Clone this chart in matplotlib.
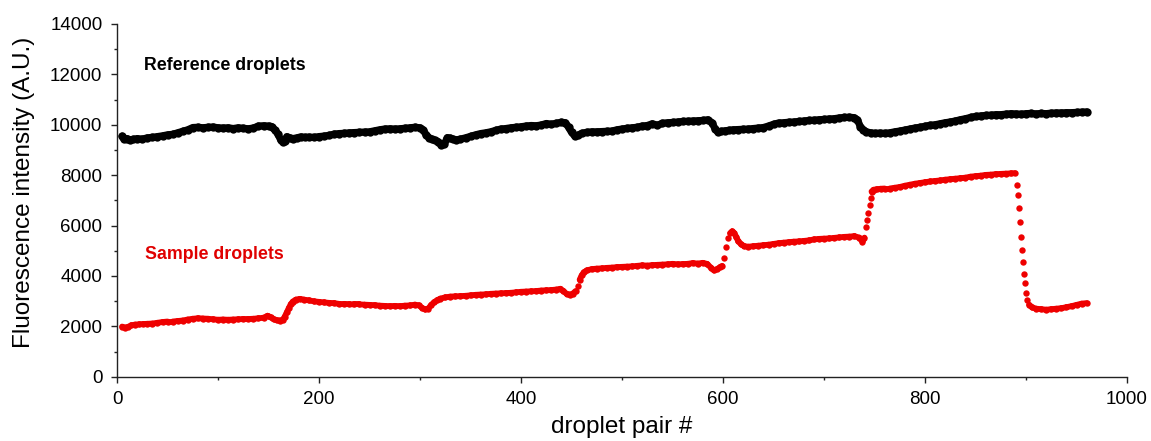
import matplotlib
matplotlib.use("Agg")
import matplotlib.pyplot as plt
import numpy as np
from matplotlib.collections import LineCollection
from matplotlib.ticker import MultipleLocator

plt.rcParams['font.family'] = ['Liberation Sans', 'DejaVu Sans']

# Reference droplets: droplet pair index and intensity
ref_pair = [
    5, 7, 10, 13, 16, 20, 25, 30, 35, 40, 45, 50, 55, 60, 65, 70, 75, 80, 85, 90,
    95, 100, 105, 110, 115, 120, 125, 130, 135, 140, 145, 150, 153, 156, 159, 162,
    164, 166, 168, 171, 174, 178, 182, 186, 190, 195, 200, 205, 210, 215, 220, 225,
    230, 235, 240, 245, 250, 255, 260, 265, 270, 275, 280, 285, 290, 295, 300, 303,
    306, 309, 312, 315, 318, 321, 324, 327, 330, 333, 336, 340, 345, 350, 355, 360,
    365, 370, 375, 380, 385, 390, 395, 400, 405, 410, 415, 420, 425, 430, 435, 440,
    444, 447, 450, 453, 456, 460, 465, 470, 475, 480, 485, 490, 495, 500, 505, 510,
    515, 520, 525, 530, 535, 540, 545, 550, 555, 560, 565, 570, 575, 580, 585, 589,
    592, 595, 598, 602, 606, 610, 615, 620, 625, 630, 635, 640, 645, 650, 655, 660,
    665, 670, 675, 680, 685, 690, 695, 700, 705, 710, 715, 720, 725, 730, 733, 736,
    739, 742, 746, 750, 755, 760, 765, 770, 775, 780, 785, 790, 795, 800, 805, 810,
    815, 820, 825, 830, 835, 840, 845, 850, 855, 860, 865, 870, 875, 880, 885, 890,
    895, 900, 905, 910, 915, 920, 925, 930, 935, 940, 945, 950, 955, 960,
]
ref_intensity = [
    9550, 9420, 9450, 9400, 9420, 9450, 9430, 9480, 9500, 9530, 9560, 9600, 9620, 9680, 9740, 9800, 9890, 9900, 9880, 9900,
    9910, 9880, 9870, 9880, 9850, 9880, 9860, 9840, 9870, 9950, 9960, 9950, 9930, 9800, 9650, 9400,
    9320, 9360, 9530, 9480, 9450, 9480, 9520, 9500, 9510, 9500, 9530, 9550, 9580, 9630, 9650, 9660,
    9680, 9690, 9700, 9710, 9720, 9760, 9800, 9830, 9840, 9830, 9840, 9860, 9880, 9900, 9880, 9800,
    9600, 9480, 9420, 9380, 9330, 9200, 9230, 9490, 9470, 9420, 9400, 9430, 9480, 9540, 9600, 9650,
    9680, 9720, 9780, 9830, 9850, 9880, 9900, 9920, 9950, 9970, 9960, 9990, 10050, 10020, 10060, 10100,
    10080, 9900, 9700, 9560, 9580, 9660, 9700, 9720, 9720, 9730, 9740, 9750, 9800, 9830, 9860, 9880,
    9900, 9950, 9970, 10040, 9980, 10060, 10080, 10090, 10110, 10130, 10140, 10150, 10160, 10170, 10200, 10080,
    9850, 9700, 9740, 9760, 9780, 9800, 9810, 9820, 9830, 9850, 9870, 9890, 9950, 10020, 10070, 10080,
    10100, 10110, 10130, 10150, 10170, 10180, 10200, 10210, 10230, 10240, 10270, 10290, 10300, 10280, 10200, 9920,
    9800, 9720, 9680, 9660, 9670, 9660, 9680, 9720, 9750, 9790, 9830, 9870, 9900, 9940, 9980, 10000,
    10040, 10080, 10110, 10150, 10200, 10240, 10290, 10330, 10350, 10370, 10380, 10400, 10400, 10420, 10440, 10430,
    10420, 10440, 10450, 10430, 10450, 10440, 10460, 10470, 10470, 10480, 10480, 10490, 10500, 10510,
]

# Sample droplets: droplet pair index and intensity
sample_pair = [
    5, 8, 11, 14, 18, 22, 26, 30, 35, 40, 45, 50, 55, 60, 65, 70, 75, 80, 85, 90,
    95, 100, 105, 110, 115, 120, 125, 130, 135, 140, 145, 149, 152, 155, 158, 161,
    164, 166, 168, 170, 172, 174, 177, 181, 185, 190, 195, 200, 205, 210, 215, 220,
    225, 230, 235, 240, 245, 250, 255, 260, 265, 270, 275, 280, 285, 290, 295, 299,
    302, 305, 308, 311, 314, 317, 320, 325, 330, 335, 340, 345, 350, 355, 360, 365,
    370, 375, 380, 385, 390, 395, 400, 405, 410, 415, 420, 425, 430, 435, 439, 442,
    445, 448, 451, 454, 456, 458, 460, 462, 465, 470, 475, 480, 485, 490, 495, 500,
    505, 510, 515, 520, 525, 530, 535, 540, 545, 550, 555, 560, 565, 570, 575, 580,
    584, 588, 591, 594, 597, 599, 601, 603, 605, 607, 609, 611, 613, 615, 618, 621,
    625, 630, 635, 640, 645, 650, 655, 660, 665, 670, 675, 680, 685, 690, 695, 700,
    705, 710, 715, 720, 725, 730, 735, 738, 740, 742, 743, 744, 745, 746, 747, 749,
    752, 756, 760, 765, 770, 775, 780, 785, 790, 795, 800, 805, 810, 815, 820, 825,
    830, 835, 840, 845, 850, 855, 860, 865, 870, 875, 880, 885, 889, 891, 892, 893,
    894, 895, 896, 897, 898, 899, 900, 901, 903, 906, 910, 915, 920, 925, 930, 935,
    940, 945, 950, 955, 960,
]
sample_intensity = [
    1990, 1950, 1980, 2040, 2070, 2080, 2090, 2100, 2110, 2140, 2170, 2190, 2190, 2210, 2230, 2270, 2300, 2320, 2310, 2300,
    2280, 2260, 2270, 2260, 2270, 2280, 2290, 2290, 2300, 2320, 2340, 2420, 2360, 2280, 2240, 2230,
    2260, 2380, 2550, 2720, 2880, 2980, 3060, 3090, 3060, 3030, 2990, 2970, 2950, 2930, 2920, 2890,
    2890, 2880, 2870, 2870, 2860, 2850, 2840, 2820, 2810, 2800, 2810, 2800, 2820, 2830, 2860, 2830,
    2730, 2670, 2700, 2850, 2960, 3040, 3100, 3150, 3180, 3190, 3200, 3210, 3230, 3250, 3260, 3270,
    3290, 3300, 3310, 3320, 3330, 3350, 3370, 3380, 3390, 3400, 3420, 3430, 3440, 3460, 3490, 3400,
    3290, 3260, 3290, 3400, 3600, 3850, 4020, 4140, 4220, 4270, 4290, 4300, 4320, 4330, 4350, 4360,
    4370, 4380, 4400, 4420, 4410, 4430, 4440, 4450, 4460, 4480, 4460, 4470, 4480, 4510, 4490, 4520,
    4480, 4330, 4220, 4270, 4350, 4400, 4700, 5150, 5500, 5700, 5770, 5700, 5550, 5380, 5250, 5180,
    5160, 5180, 5200, 5220, 5240, 5270, 5300, 5320, 5340, 5360, 5370, 5390, 5410, 5450, 5470, 5480,
    5490, 5510, 5530, 5550, 5560, 5580, 5520, 5360, 5520, 5960, 6220, 6490, 6820, 7090, 7350, 7420,
    7440, 7460, 7470, 7470, 7500, 7530, 7580, 7620, 7660, 7690, 7720, 7750, 7770, 7790, 7820, 7840,
    7860, 7880, 7900, 7940, 7960, 7980, 8010, 8020, 8040, 8050, 8060, 8070, 8080, 7620, 7220, 6690,
    6160, 5560, 5030, 4570, 4070, 3710, 3310, 3050, 2860, 2750, 2700, 2680, 2660, 2680, 2700, 2720,
    2760, 2800, 2850, 2900, 2920,
]

BLACK = '#000000'
RED = '#ee0000'

fig = plt.figure(figsize=(11.51, 4.41), dpi=100)
ax = fig.add_axes([0.1017, 0.1458, 0.8775, 0.7998])

# Reference series: dense enough that the points merge into a band
ax.plot(ref_pair, ref_intensity, '-', color=BLACK, lw=5.2,
        solid_capstyle='round', solid_joinstyle='round')
ax.plot(ref_pair, ref_intensity, linestyle='none', marker='o', markersize=6.0,
        markerfacecolor=BLACK, markeredgecolor='none')

# Sample series: join neighbouring points only where the signal is gradual,
# so the fast transitions stay as separate dots
sx = np.asarray(sample_pair, dtype=float)
sy = np.asarray(sample_intensity, dtype=float)
pts = np.column_stack([sx, sy])
segs = np.stack([pts[:-1], pts[1:]], axis=1)
gradual = np.abs(np.diff(sy)) < 180
ax.add_collection(LineCollection(segs[gradual], colors=RED, linewidths=4.2,
                                 capstyle='round', joinstyle='round'))
ax.plot(sample_pair, sample_intensity, linestyle='none', marker='o', markersize=4.6,
        markerfacecolor=RED, markeredgecolor='none')

ax.text(27, 12350, 'Reference droplets', fontsize=12.8, fontweight='bold',
        color='black', va='center', ha='left')
ax.text(28, 4840, 'Sample droplets', fontsize=12.8, fontweight='bold',
        color='#e00000', va='center', ha='left')

ax.set_xlim(0, 1000)
ax.set_ylim(0, 14000)
ax.xaxis.set_major_locator(MultipleLocator(200))
ax.xaxis.set_minor_locator(MultipleLocator(100))
ax.yaxis.set_major_locator(MultipleLocator(2000))
ax.yaxis.set_minor_locator(MultipleLocator(1000))

for side in ('top', 'right'):
    ax.spines[side].set_visible(False)
for side in ('left', 'bottom'):
    ax.spines[side].set_linewidth(1.0)
    ax.spines[side].set_color('#222222')

ax.tick_params(axis='both', which='major', direction='out', length=4.5, width=1.0,
               labelsize=13.5, pad=6, color='#222222')
ax.tick_params(axis='both', which='minor', direction='out', length=2.5, width=1.0,
               color='#222222')

ax.set_xlabel('droplet pair #', fontsize=17.5)
ax.xaxis.set_label_coords(0.5, -0.112)
ax.set_ylabel('Fluorescence intensity (A.U.)', fontsize=17.5)
ax.yaxis.set_label_coords(-0.081, 0.524)

fig.savefig('out.png', dpi=100)
